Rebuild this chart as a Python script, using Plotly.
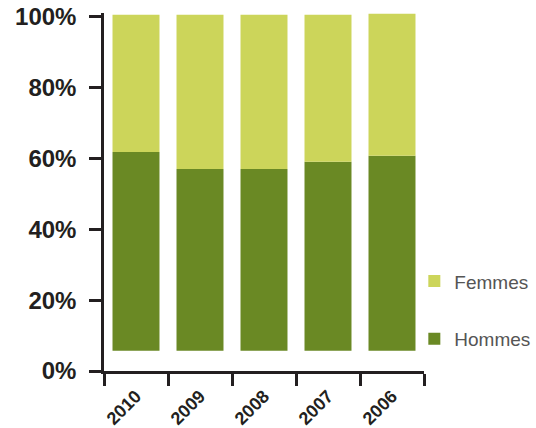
import plotly.graph_objects as go

years = ["2010", "2009", "2008", "2007", "2006"]
base_pct = 5.7
hommes_top = [61.8, 57.0, 57.0, 59.0, 60.7]
femmes_top = [100.5, 100.5, 100.5, 100.5, 100.8]
y_ticks = [0, 20, 40, 60, 80, 100]
y_tick_labels = ["0%", "20%", "40%", "60%", "80%", "100%"]

c_hommes = "#6A8924"
c_femmes = "#CCD55A"
dark = "#231F20"

hommes_len = [h - base_pct for h in hommes_top]
femmes_len = [f - h for f, h in zip(femmes_top, hommes_top)]

fig = go.Figure()
fig.add_trace(go.Bar(x=years, y=hommes_len, base=[base_pct] * len(years), name="Hommes",
                     marker=dict(color=c_hommes, line=dict(width=0)), legendgroup="h",
                     legendrank=2))
fig.add_trace(go.Bar(x=years, y=femmes_len, base=hommes_top, name="Femmes",
                     marker=dict(color=c_femmes, line=dict(width=0)), legendgroup="f",
                     legendrank=1))

fig.update_layout(
    width=536, height=428,
    margin=dict(l=104, r=112, t=13, b=57, autoexpand=False),
    paper_bgcolor="white", plot_bgcolor="white",
    barmode="overlay", bargap=0.266,
    font=dict(family="Liberation Sans", color=dark),
    legend=dict(traceorder="grouped", tracegroupgap=30, xref="container", x=0.773, xanchor="left",
                yref="container", y=0.163, yanchor="bottom", font=dict(size=19, color="#555555"),
                itemwidth=30, bgcolor="rgba(0,0,0,0)"),
    xaxis=dict(showline=True, linecolor=dark, linewidth=2.5, ticks="outside",
               tickson="boundaries", ticklen=12, tickwidth=2.5, tickcolor=dark,
               tickangle=-45, tickfont=dict(size=18, color=dark, family="Liberation Sans", weight="bold"),
               showgrid=False, zeroline=False, range=[-0.5, 4.5], automargin=False,
               ticklabelstandoff=5),
    yaxis=dict(showline=True, linecolor=dark, linewidth=2.5, ticks="outside",
               ticklen=12, tickwidth=2.5, tickcolor=dark, range=[0, 101],
               tickvals=y_ticks, ticktext=y_tick_labels, automargin=False,
               tickfont=dict(size=24, color=dark, family="Liberation Sans", weight="bold"),
               showgrid=False, zeroline=False, ticklabelstandoff=8),
)

fig.write_html("out.html")
